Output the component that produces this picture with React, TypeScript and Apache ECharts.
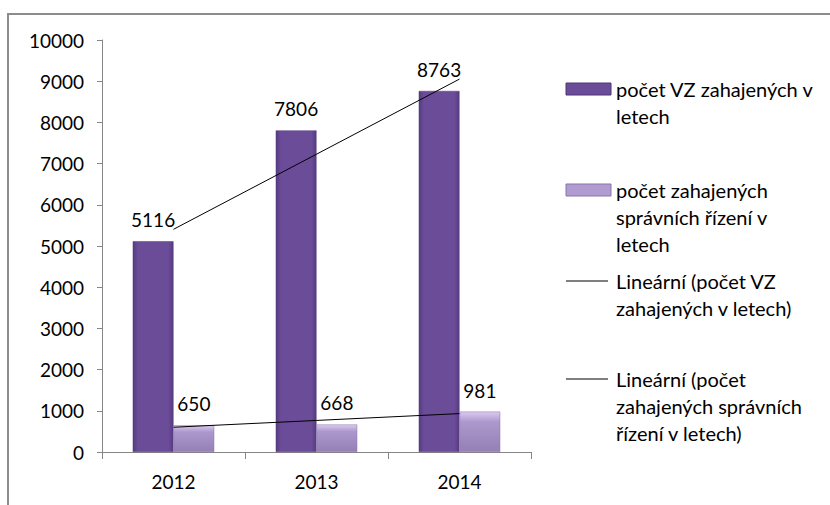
import React, { useEffect, useRef } from "react";
import * as echarts from "echarts";

const categories = ["2012", "2013", "2014"];
const vzValues = [5116, 7806, 8763];
const rizeniValues = [650, 668, 981];
const seriesNames = [
  "počet VZ zahajených v letech",
  "počet zahajených správních řízení v letech",
];
const trendNames = [
  "Lineární (počet VZ zahajených v letech)",
  "Lineární (počet zahajených správních řízení v letech)",
];
const legendLines = [
  ["počet VZ zahajených v", "letech"],
  ["počet zahajených", "správních řízení v", "letech"],
  ["Lineární (počet VZ", "zahajených v letech)"],
  ["Lineární (počet", "zahajených správních", "řízení v letech)"],
];
const yMin = 0;
const yMax = 10000;
const yInterval = 1000;

function linearTrend(values: number[]): number[] {
  const n = values.length;
  const xs = values.map((_, i) => i);
  const mx = xs.reduce((a, b) => a + b, 0) / n;
  const my = values.reduce((a, b) => a + b, 0) / n;
  let num = 0;
  let den = 0;
  xs.forEach((x, i) => {
    num += (x - mx) * (values[i] - my);
    den += (x - mx) * (x - mx);
  });
  const slope = num / den;
  const intercept = my - slope * mx;
  return xs.map((x) => intercept + slope * x);
}

const FONT = "Lato";
const TEXT_COLOR = "#000";

export default function App() {
  const ref = useRef<HTMLDivElement>(null);

  useEffect(() => {
    if (!ref.current) return;
    const chart = echarts.init(ref.current, undefined, { renderer: "svg" });

    const purple = new echarts.graphic.LinearGradient(0, 0, 1, 0, [
      { offset: 0, color: "#563b80" },
      { offset: 0.12, color: "#6a4c98" },
      { offset: 0.88, color: "#6a4c98" },
      { offset: 1, color: "#563b80" },
    ]);
    const lilac = new echarts.graphic.LinearGradient(0, 0, 0, 1, [
      { offset: 0, color: "#dccaf0" },
      { offset: 0.25, color: "#ad98cd" },
      { offset: 1, color: "#9480b4" },
    ]);

    const markerY = [89, 190, 281, 379];
    const legendGraphics: any[] = [];
    legendLines.forEach((lines, i) => {
      const cy = markerY[i];
      if (i < 2) {
        legendGraphics.push({
          type: "rect",
          shape: { x: 566, y: cy - 6, width: 45, height: 12 },
          style: {
            fill: i === 0 ? "#6a4c98" : "#b09cd0",
            stroke: i === 0 ? "#4e3676" : "#8874a8",
            lineWidth: 1,
          },
        });
      } else {
        legendGraphics.push({
          type: "line",
          shape: { x1: 566, y1: cy, x2: 608, y2: cy },
          style: { stroke: "#000", lineWidth: 1 },
        });
      }
      legendGraphics.push({
        type: "text",
        x: 616,
        y: cy - 13.5,
        style: {
          text: lines.join("\n"),
          font: `20px ${FONT}`,
          fill: TEXT_COLOR,
          lineHeight: 27,
          verticalAlign: "top",
          align: "left",
        },
      });
    });

    const option: any = {
      animation: false,
      textStyle: { fontFamily: FONT },
      grid: { left: 102, right: 299, top: 40, bottom: 53, containLabel: false },
      xAxis: {
        type: "category",
        data: categories,
        axisLine: { lineStyle: { color: "#868686", width: 1 } },
        axisTick: { show: true, length: 7, lineStyle: { color: "#868686" } },
        axisLabel: { color: TEXT_COLOR, fontSize: 19, fontFamily: FONT, margin: 20 },
      },
      yAxis: {
        type: "value",
        min: yMin,
        max: yMax,
        interval: yInterval,
        axisLine: { show: true, lineStyle: { color: "#868686", width: 1 } },
        axisTick: { show: true, length: 5, lineStyle: { color: "#868686" } },
        splitLine: { show: false },
        axisLabel: {
          color: TEXT_COLOR,
          fontSize: 19,
          fontFamily: FONT,
          margin: 18,
          formatter: (v: number) => String(v),
        },
      },
      series: [
        {
          name: seriesNames[0],
          type: "bar",
          data: vzValues,
          barGap: "0%",
          barCategoryGap: "43%",
          itemStyle: { color: purple, borderColor: "#54397e", borderWidth: 0.5 },
          label: {
            show: true,
            position: "top",
            distance: 12,
            color: TEXT_COLOR,
            fontSize: 19,
            fontFamily: FONT,
          },
        },
        {
          name: seriesNames[1],
          type: "bar",
          data: rizeniValues,
          itemStyle: { color: lilac, borderColor: "#8a77aa", borderWidth: 0.5 },
          label: {
            show: true,
            position: "top",
            distance: 12,
            color: TEXT_COLOR,
            fontSize: 19,
            fontFamily: FONT,
          },
        },
        {
          name: trendNames[0],
          type: "line",
          data: linearTrend(vzValues),
          symbol: "none",
          silent: true,
          lineStyle: { color: "#000", width: 1 },
          z: 5,
        },
        {
          name: trendNames[1],
          type: "line",
          data: linearTrend(rizeniValues),
          symbol: "none",
          silent: true,
          lineStyle: { color: "#000", width: 1 },
          z: 5,
        },
      ],
      graphic: [
        {
          type: "rect",
          shape: { x: 8, y: 14, width: 900, height: 600 },
          style: { fill: "none", stroke: "#8c8c8c", lineWidth: 2 },
          silent: true,
        },
        ...legendGraphics,
      ],
    };

    chart.setOption(option);
    return () => chart.dispose();
  }, []);

  return (
    <div
      ref={ref}
      style={{ position: "absolute", left: 0, top: 0, width: 830, height: 505, background: "#fff" }}
    />
  );
}
